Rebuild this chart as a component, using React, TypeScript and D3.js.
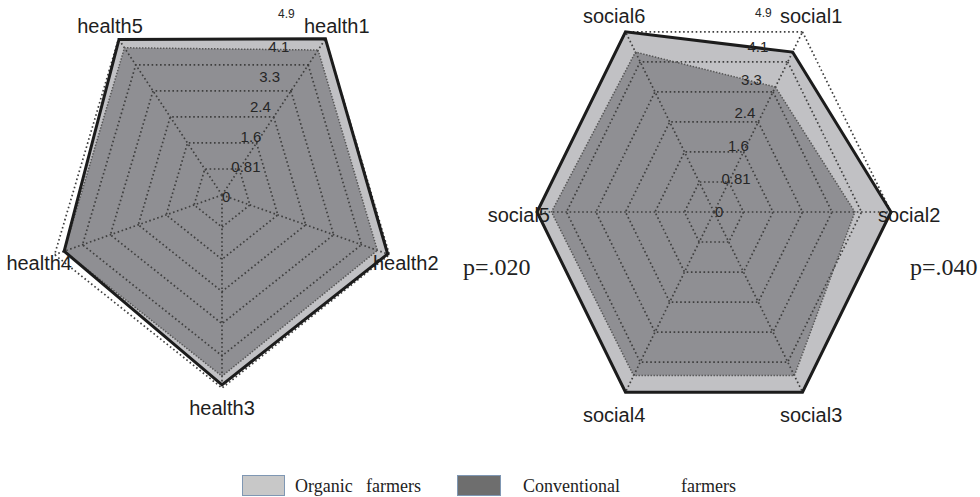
import React from "react";
import * as d3 from "d3";

// ---------- data ----------
const maxValue = 4.9;
const tickLabels = ["0", "0.81", "1.6", "2.4", "3.3", "4.1", "4.9"];

const healthAxes = ["health1", "health2", "health3", "health4", "health5"];
const healthOrganic = [4.9, 4.85, 4.82, 4.62, 4.88];
const healthConventional = [4.55, 4.55, 4.6, 4.62, 4.62];

const socialAxes = ["social1", "social2", "social3", "social4", "social5", "social6"];
const socialOrganic = [4.35, 4.9, 4.9, 4.9, 4.9, 4.9];
const socialConventional = [3.4, 3.9, 4.45, 4.45, 4.5, 4.35];

const pValues = ["p=.020", "p=.040"];
const legendSeries = ["Organic", "Conventional"];
const legendSuffix = "farmers";

// ---------- layout ----------
const W = 980;
const H = 497;

type LabelOffset = { dx: number; dy: number; anchor: string };

const healthLayout = {
  cx: 222, cy: 195, rx: 176, ry: 193,
  labelOffsets: [
    { dx: -21.5, dy: -6, anchor: "start" },
    { dx: -16.4, dy: 15.4, anchor: "start" },
    { dx: 0, dy: 27, anchor: "middle" },
    { dx: 17.4, dy: 15.4, anchor: "end" },
    { dx: -8.5, dy: -6, anchor: "middle" },
  ] as LabelOffset[],
  tickStep: [9.3, -30],
  tickOrigin: [222, 202],
  topTick: [278, 18],
};

const socialLayout = {
  cx: 714, cy: 212, rx: 177, ry: 208,
  labelOffsets: [
    { dx: -22.5, dy: -9, anchor: "start" },
    { dx: -13, dy: 10, anchor: "start" },
    { dx: -22.5, dy: 30, anchor: "start" },
    { dx: -42.5, dy: 30, anchor: "start" },
    { dx: 13, dy: 10, anchor: "end" },
    { dx: -42.5, dy: -9, anchor: "start" },
  ] as LabelOffset[],
  tickStep: [6.5, -33],
  tickOrigin: [715, 217],
  topTick: [755, 17],
};

const ORG_FILL = "#c1c1c4";
const CONV_FILL = "#8f8f93";
const GRID = "#3f3f3f";
const SANS = "Liberation Sans, Arial, sans-serif";
const SERIF = "Liberation Serif, Times New Roman, serif";

type RadarProps = {
  axes: string[];
  organic: number[];
  conventional: number[];
  layout: typeof healthLayout;
};

function Radar({ axes, organic, conventional, layout }: RadarProps) {
  const n = axes.length;
  const { cx, cy, rx, ry } = layout;
  const angle = d3.scaleLinear().domain([0, n]).range([Math.PI / n, Math.PI / n + 2 * Math.PI]);
  const r = d3.scaleLinear().domain([0, maxValue]).range([0, 1]);
  const pt = (i: number, v: number): [number, number] => [
    cx + rx * r(v) * Math.sin(angle(i)),
    cy - ry * r(v) * Math.cos(angle(i)),
  ];
  const line = d3.line().curve(d3.curveLinearClosed);
  const poly = (vals: number[]) => line(vals.map((v, i) => pt(i, v))) as string;
  const ringValues = d3.range(1, tickLabels.length).map((k) => (k * maxValue) / (tickLabels.length - 1));

  return (
    <g>
      <path d={poly(organic)} fill={ORG_FILL} stroke="none" />
      <path d={poly(conventional)} fill={CONV_FILL} stroke="none" />
      {ringValues.map((v, k) => (
        <path key={"ring" + k} d={poly(axes.map(() => v))} fill="none" stroke={GRID}
          strokeWidth={1.7} strokeDasharray="1.6 2.6" />
      ))}
      {axes.map((a, i) => {
        const [x2, y2] = pt(i, maxValue);
        return (
          <line key={"sp" + a} x1={cx} y1={cy} x2={x2} y2={y2} stroke={GRID}
            strokeWidth={1.7} strokeDasharray="1.6 2.6" />
        );
      })}
      <path d={poly(conventional)} fill="none" stroke="#555" strokeWidth={1.5} strokeDasharray="1.4 1.6" />
      <path d={poly(organic)} fill="none" stroke="#1c1c1c" strokeWidth={3} strokeLinejoin="miter" />
      {axes.map((a, i) => {
        const [x, y] = pt(i, maxValue);
        const o = layout.labelOffsets[i];
        return (
          <text key={"lb" + a} x={x + o.dx} y={y + o.dy} textAnchor={o.anchor}
            fontFamily={SANS} fontSize={20} fill="#1e1e1e">{a}</text>
        );
      })}
      {tickLabels.map((t, k) => {
        const last = k === tickLabels.length - 1;
        const x = last ? layout.topTick[0] : layout.tickOrigin[0] + layout.tickStep[0] * k;
        const y = last ? layout.topTick[1] : layout.tickOrigin[1] + layout.tickStep[1] * k;
        return (
          <text key={"tk" + k} x={x} y={y} fontFamily={SANS} fontSize={last ? 12 : 15}
            fill="#262626">{t}</text>
        );
      })}
    </g>
  );
}

export default function App() {
  return (
    <svg width={W} height={H} viewBox={`0 0 ${W} ${H}`}
      style={{ position: "absolute", left: 0, top: 0, background: "#fff" }}>
      <rect x={0} y={0} width={W} height={H} fill="#fff" />
      <Radar axes={healthAxes} organic={healthOrganic} conventional={healthConventional} layout={healthLayout} />
      <Radar axes={socialAxes} organic={socialOrganic} conventional={socialConventional} layout={socialLayout} />
      <text x={463} y={275} fontFamily={SERIF} fontSize={24} fill="#222">{pValues[0]}</text>
      <text x={910} y={275} fontFamily={SERIF} fontSize={24} fill="#222">{pValues[1]}</text>
      {/* legend */}
      <rect x={242.5} y={475.5} width={42} height={20} fill="#c8c8c8" stroke="#7f97b3" strokeWidth={1} />
      <text x={295} y={492} fontFamily={SERIF} fontSize={18} fill="#222">{legendSeries[0]}</text>
      <text x={366} y={492} fontFamily={SERIF} fontSize={18} fill="#222">{legendSuffix}</text>
      <rect x={457.5} y={475.5} width={43} height={20} fill="#6e6e6e" stroke="#7f97b3" strokeWidth={1} />
      <text x={523} y={492} fontFamily={SERIF} fontSize={18} fill="#222">{legendSeries[1]}</text>
      <text x={681} y={492} fontFamily={SERIF} fontSize={18} fill="#222">{legendSuffix}</text>
    </svg>
  );
}
